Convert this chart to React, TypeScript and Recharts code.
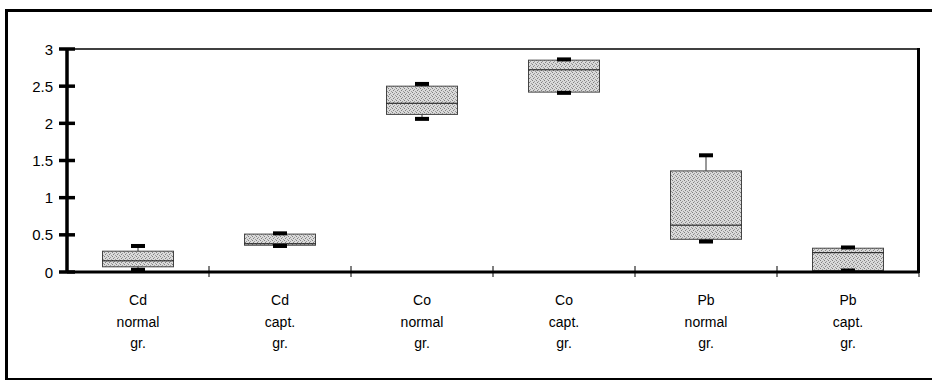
import { Bar, ComposedChart, ReferenceLine, XAxis, YAxis } from "recharts"

const METALS = ["Cd", "Cd", "Co", "Co", "Pb", "Pb"]
const GROUPS = ["normal", "capt.", "normal", "capt.", "normal", "capt."]
const MINS = [0.03, 0.35, 2.06, 2.41, 0.41, 0.02]
const Q1S = [0.07, 0.36, 2.12, 2.42, 0.44, 0.02]
const MEDIANS = [0.15, 0.38, 2.27, 2.72, 0.63, 0.26]
const Q3S = [0.28, 0.51, 2.5, 2.85, 1.36, 0.32]
const MAXS = [0.35, 0.52, 2.53, 2.86, 1.57, 0.33]
const Y_TICKS = [0, 0.5, 1, 1.5, 2, 2.5, 3]

const FONT = "'Liberation Sans', Arial, sans-serif"
const LINE_DY = [25, 22, 21]

const data = METALS.map((metal, i) => ({
  name: `${metal} ${GROUPS[i]} gr.`,
  lines: [metal, GROUPS[i], "gr."],
  min: MINS[i],
  q1: Q1S[i],
  median: MEDIANS[i],
  q3: Q3S[i],
  max: MAXS[i],
}))

// box + whiskers drawn from the range bar [min, max] that recharts positions for us
function BoxShape(props: any) {
  const { x, y, width, height, payload } = props
  const { min, max, q1, median, q3 } = payload
  const per = max - min > 0 ? height / (max - min) : 0
  const py = (v: number) => y + (max - v) * per
  const cx = x + width / 2
  const capW = 14
  return (
    <g>
      <line x1={cx} x2={cx} y1={py(max)} y2={py(min)} stroke="#333" strokeWidth={1} />
      <rect
        x={x}
        y={py(q3)}
        width={width}
        height={Math.max(py(q1) - py(q3), 1)}
        fill="url(#stipple)"
        stroke="#444"
        strokeWidth={1}
      />
      <line x1={x} x2={x + width} y1={py(median)} y2={py(median)} stroke="#111" strokeWidth={1} />
      <rect x={cx - capW / 2} y={py(max) - 2} width={capW} height={4} fill="#000" />
      <rect x={cx - capW / 2} y={py(min) - 2} width={capW} height={4} fill="#000" />
    </g>
  )
}

function YTick({ x, y, payload }: any) {
  const axisX = x + 14
  return (
    <g>
      <line x1={axisX - 8} x2={axisX + 8} y1={y} y2={y} stroke="#000" strokeWidth={3.5} />
      <text x={x} y={y} dy={5.5} textAnchor="end" fontSize={15} fontFamily={FONT} fill="#000">
        {payload.value}
      </text>
    </g>
  )
}

function XTick({ x, y, payload, index, width, visibleTicksCount }: any) {
  const band = width / visibleTicksCount
  const axisY = y - 8
  const lines = data[index]?.lines ?? [payload.value]
  return (
    <g>
      <line x1={x + band / 2} x2={x + band / 2} y1={axisY - 6} y2={axisY + 5} stroke="#000" strokeWidth={1} />
      <text x={x} y={y} textAnchor="middle" fontSize={14} fontFamily={FONT} fill="#000">
        {lines.map((l: string, i: number) => (
          <tspan key={i} x={x} dy={LINE_DY[i]}>
            {l}
          </tspan>
        ))}
      </text>
    </g>
  )
}

export default function App() {
  return (
    <div
      style={{
        position: "absolute",
        left: 0,
        top: 0,
        width: 932,
        height: 380,
        overflow: "hidden",
        background: "#fff",
      }}
    >
      <div
        style={{
          position: "absolute",
          left: 5,
          top: 9,
          width: 940,
          height: 366,
          borderTop: "3px solid #000",
          borderLeft: "3px solid #000",
          borderBottom: "3px solid #000",
        }}
      />
      {/* right edge of the plot frame */}
      <div
        style={{
          position: "absolute",
          left: 917,
          top: 48,
          width: 2.5,
          height: 225,
          background: "#000",
        }}
      />
      <div style={{ position: "absolute", left: 0, top: 0 }}>
        <ComposedChart
          width={932}
          height={380}
          data={data}
          margin={{ top: 49, right: 13, left: 17, bottom: 8 }}
          barCategoryGap="25%"
        >
          <defs>
            <pattern id="stipple" width={4} height={4} patternUnits="userSpaceOnUse">
              <rect width={4} height={4} fill="#dadada" />
              <rect x={0} y={0} width={1} height={1} fill="#808080" />
              <rect x={2} y={1} width={1} height={1} fill="#9a9a9a" />
              <rect x={1} y={2} width={1} height={1} fill="#808080" />
              <rect x={3} y={3} width={1} height={1} fill="#9a9a9a" />
            </pattern>
          </defs>
          <XAxis
            dataKey="name"
            height={100}
            interval={0}
            axisLine={{ stroke: "#000", strokeWidth: 3 }}
            tickLine={false}
            tickSize={6}
            tickMargin={2}
            tick={<XTick />}
          />
          <YAxis
            width={50}
            domain={[0, 3]}
            ticks={Y_TICKS}
            axisLine={{ stroke: "#000", strokeWidth: 3.5 }}
            tickLine={false}
            tickSize={6}
            tickMargin={8}
            tick={<YTick />}
          />
          <ReferenceLine y={3} stroke="#000" strokeWidth={1.5} />
          <Bar
            dataKey={(d: any) => [d.min, d.max]}
            shape={<BoxShape />}
            isAnimationActive={false}
          />
        </ComposedChart>
      </div>
    </div>
  )
}
